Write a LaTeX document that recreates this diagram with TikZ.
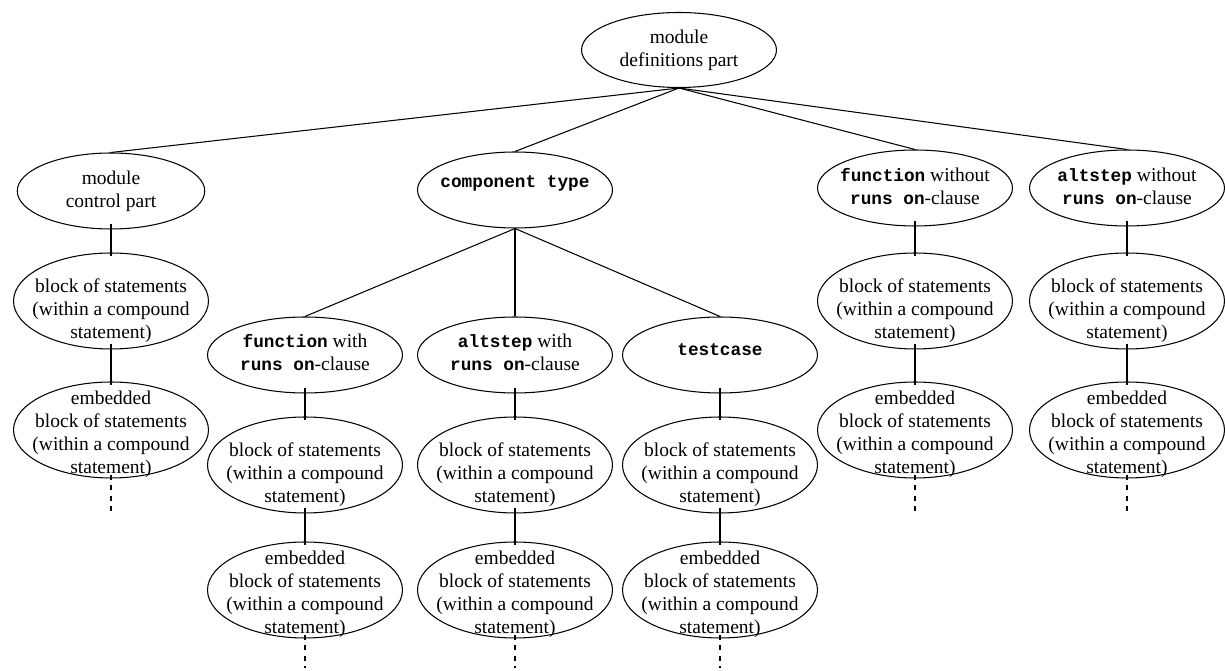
\documentclass[tikz,border=0pt]{standalone}
\usepackage{fontspec}
\setmainfont{Liberation Serif}
\newfontfamily\codefont{Liberation Mono}[Scale=0.91]
\usepackage{tikz}
\usetikzlibrary{shapes}
\newcommand{\kw}[1]{{\codefont\bfseries #1}}
\newcommand{\blocktext}{block of statements\\(within a compound\\statement)}
\newcommand{\embtext}{embedded\\\blocktext}
\tikzset{font=\fontsize{11.1}{13.1}\selectfont, every label/.style={align=center},
  oval/.style={ellipse,draw,line width=0.6pt,inner sep=0pt,minimum width=3.9cm,minimum height=1.52cm},
  blockoval/.style={oval,minimum height=1.92cm},
  link/.style={line width=0.6pt},
  stem/.style={link,shorten <=-0.12cm,shorten >=-0.08cm},
  tail/.style={link,dashed,shorten <=-0.08cm}}

\begin{document}
\begin{tikzpicture}[x=0.02cm,y=-0.02cm]
\useasboundingbox (0,0) rectangle (1225,671);
%\draw[help lines,step=50] (0,0) grid (1225,671);
\path (679,50) node(defs) [oval,minimum height=1.5cm,label={center:{module\\definitions part}}] {}
(111,191) node(ctrl) [oval,minimum width=3.75cm,label={center:{module\\control part}}] {}
(515,190) node(comp_type) [oval,label={[yshift=0.14cm]center:{\kw{component type}}}] {}
(915,188) node(fn_wo) [oval,label={[yshift=0.04cm]center:{\kw{function} without\\\kw{runs on}-clause}}] {}
(1127,188) node(alt_wo) [oval,label={[yshift=0.04cm]center:{\kw{altstep} without\\\kw{runs on}-clause}}] {}
(305,355) node(fn_w) [oval,label={[yshift=0.05cm]center:{\kw{function} with\\\kw{runs on}-clause}}] {}
(515,355) node(alt_w) [oval,label={[yshift=0.05cm]center:{\kw{altstep} with\\\kw{runs on}-clause}}] {}
(720,355) node(tcase) [oval,label={[yshift=0.1cm]center:{\kw{testcase}}}] {};

% block of statements
\path (111,301) node(ctrl_block) [blockoval,label={[yshift=-0.2cm]center:{\blocktext}}] {}
(305,465) node(fn_w_block) [blockoval,label={[yshift=-0.2cm]center:{\blocktext}}] {}
(515,465) node(alt_w_block) [blockoval,label={[yshift=-0.2cm]center:{\blocktext}}] {}
(720,465) node(tcase_block) [blockoval,label={[yshift=-0.2cm]center:{\blocktext}}] {}
(915,301) node(fn_wo_block) [blockoval,label={[yshift=-0.2cm]center:{\blocktext}}] {}
(1127,301) node(alt_wo_block) [blockoval,label={[yshift=-0.2cm]center:{\blocktext}}] {};

% embedded blocks
\path (111,430) node(ctrl_emb) [blockoval,label={[yshift=-0.09cm]center:{\embtext}}] {}
(305,590) node(fn_w_emb) [blockoval,label={[yshift=-0.09cm]center:{\embtext}}] {}
(515,590) node(alt_w_emb) [blockoval,label={[yshift=-0.09cm]center:{\embtext}}] {}
(720,590) node(tcase_emb) [blockoval,label={[yshift=-0.09cm]center:{\embtext}}] {}
(915,430) node(fn_wo_emb) [blockoval,label={[yshift=-0.09cm]center:{\embtext}}] {}
(1127,430) node(alt_wo_emb) [blockoval,label={[yshift=-0.09cm]center:{\embtext}}] {};

\coordinate (ctrl_end) at (111,512);
\coordinate (fn_w_end) at (305,668);
\coordinate (alt_w_end) at (515,668);
\coordinate (tcase_end) at (720,668);
\coordinate (fn_wo_end) at (915,512);
\coordinate (alt_wo_end) at (1127,512);

\draw[link] (defs.south) -- (ctrl.north);
\draw[link] (defs.south) -- (comp_type.north);
\draw[link] (defs.south) -- (fn_wo.north);
\draw[link] (defs.south) -- (alt_wo.north);

\draw[link] (comp_type.south) -- (fn_w.north);
\draw[link] (comp_type.south) -- (alt_w.north);
\draw[link] (comp_type.south) -- (tcase.north);

\draw[stem] (ctrl) -- (ctrl_block);
\draw[stem] (ctrl_block) -- (ctrl_emb);
\draw[stem] (fn_w) -- (fn_w_block);
\draw[stem] (fn_w_block) -- (fn_w_emb);
\draw[stem] (alt_w) -- (alt_w_block);
\draw[stem] (alt_w_block) -- (alt_w_emb);
\draw[stem] (tcase) -- (tcase_block);
\draw[stem] (tcase_block) -- (tcase_emb);
\draw[stem] (fn_wo) -- (fn_wo_block);
\draw[stem] (fn_wo_block) -- (fn_wo_emb);
\draw[stem] (alt_wo) -- (alt_wo_block);
\draw[stem] (alt_wo_block) -- (alt_wo_emb);

%\draw[tail] (ctrl_emb) -- (ctrl_end);
\draw[tail] (ctrl_emb.south) -- (ctrl_end);
\draw[tail] (fn_w_emb.south) -- (fn_w_end);
\draw[tail] (alt_w_emb.south) -- (alt_w_end);
\draw[tail] (tcase_emb.south) -- (tcase_end);
\draw[tail] (fn_wo_emb.south) -- (fn_wo_end);
\draw[tail] (alt_wo_emb.south) -- (alt_wo_end);
\end{tikzpicture}
\end{document}
